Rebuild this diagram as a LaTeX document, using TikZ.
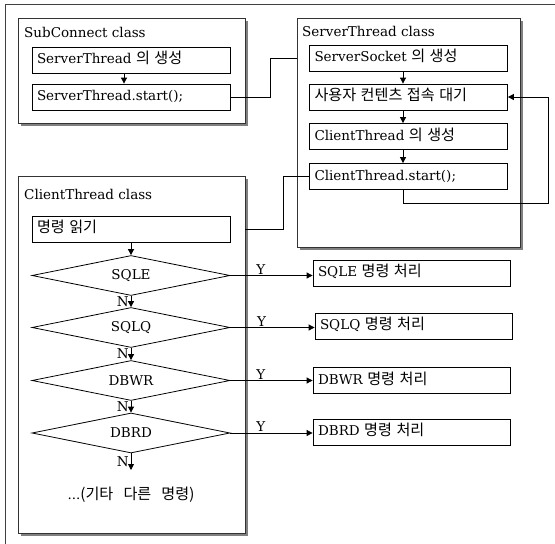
\documentclass[tikz,border=0pt]{standalone}
\usepackage{fontspec}
\setmainfont{DejaVu Serif}
\newfontfamily\kr[Scale=1.12, WordSpace=3]{Noto Sans CJK KR}
\usepackage{tikz}
\usetikzlibrary{shapes.geometric,arrows.meta,positioning,calc,shadows}

\begin{document}
\begin{tikzpicture}[x=1pt, y=-1pt,
  classbox/.style={draw=black!80, fill=white, line width=0.8pt, inner sep=0pt,
                   drop shadow={shadow xshift=3pt, shadow yshift=-3pt, fill=black!50, opacity=1}},
  stepbox/.style={draw, fill=white, line width=0.8pt, text width=188pt, align=left,
                  inner sep=5pt, minimum height=26pt, text height=10pt, text depth=3pt},
  resbox/.style={stepbox, text width=187pt},
  decide/.style={draw, diamond, aspect=5, minimum width=198pt, minimum height=40pt,
                 inner sep=0pt, line width=0.8pt},
  title/.style={anchor=base west, inner sep=0pt},
  arr/.style={-{Triangle[length=6pt,width=6pt]}, line width=0.8pt},
  line/.style={line width=0.8pt},
  font=\fontsize{13.5}{16}\selectfont
]
\useasboundingbox (0,0) rectangle (555,544);

% outer frame
\draw[line, black!75] (5,544) -- (5,4) -- (555,4);

% class frames
\node[classbox, minimum width=227pt, minimum height=105pt] (subc) at (131.5,70.5)  {};
\node[classbox, minimum width=223pt, minimum height=229pt] (srvc) at (408.5,132.5) {};
\node[classbox, minimum width=227pt, minimum height=357pt] (clic) at (131.5,354.5) {};

\node[title] (subct) at (24,37)  {SubConnect class};
\node[title] (srvct) at (302,36) {ServerThread class};
\node[title] (clict) at (24,199) {ClientThread class};

% SubConnect class
\node[stepbox] (st1) at (131,60) {ServerThread {\kr 의 생성}};
\node[stepbox] (st2) at (131,97) {ServerThread.start();};
\draw[arr] ([xshift=-7pt]st1.south) -- ([xshift=-7pt]st2.north);

% ServerThread class
\node[stepbox] (ss1) at (408.5,58)    {ServerSocket {\kr 의 생성}};
\node[stepbox] (ss2) at (408.5,97)    {\kr 사용자 컨텐츠 접속 대기};
\node[stepbox] (ss3) at (408.5,136.5) {ClientThread {\kr 의 생성}};
\node[stepbox] (ss4) at (408.5,176.5) {ClientThread.start();};
\draw[arr] ([xshift=-5.5pt]ss1.south) -- ([xshift=-5.5pt]ss2.north);
\draw[arr] ([xshift=-5.5pt]ss2.south) -- ([xshift=-5.5pt]ss3.north);
\draw[arr] ([xshift=-5.5pt]ss3.south) -- ([xshift=-5.5pt]ss4.north);

% loop back to waiting
\coordinate (loopc) at (548,203);
\draw[arr] ([xshift=-5.5pt]ss4.south) |- (loopc) |- (ss2.east);

% thread start links
\draw[line] (st2.east) -- ++(40,0) |- (srvc.west |- ss1.west);
\draw[line] (ss4.west) -- ++(-26,0) |- (clic.east |- 245,229);

% ClientThread class
\node[stepbox] (rd) at (131,229) {\kr 명령 읽기};
\node[decide] (d1) at (131,275.5) {SQLE};
\node[decide] (d2) at (131,327.5) {SQLQ};
\node[decide] (d3) at (131,380.5) {DBWR};
\node[decide] (d4) at (131,433)   {DBRD};
\node (etc) at (131,495) {...{\kr(기타 다른 명령)}};
\coordinate (etcend) at (131,470);

\draw[arr] (rd.south) -- (d1.north);
\draw[arr] (d1.south) -- node[left, inner sep=2pt]{N} (d2.north);
\draw[arr] (d2.south) -- node[left, inner sep=2pt]{N} (d3.north);
\draw[arr] (d3.south) -- node[left, inner sep=2pt]{N} (d4.north);
\draw[arr] (d4.south) -- node[left, inner sep=2pt]{N} (etcend);

% command handlers
\node[resbox] (r1) at (411.5,273)   {SQLE {\kr 명령 처리}};
\node[resbox] (r2) at (413.5,326)   {SQLQ {\kr 명령 처리}};
\node[resbox] (r3) at (411.5,380.5) {DBWR {\kr 명령 처리}};
\node[resbox] (r4) at (411.5,432)   {DBRD {\kr 명령 처리}};

\draw[arr] (d1.east) -- node[above, pos=.37, inner sep=1pt]{Y} (d1.east -| r1.west);
\draw[arr] (d2.east) -- node[above, pos=.37, inner sep=1pt]{Y} (d2.east -| r2.west);
\draw[arr] (d3.east) -- node[above, pos=.37, inner sep=1pt]{Y} (d3.east -| r3.west);
\draw[arr] (d4.east) -- node[above, pos=.37, inner sep=1pt]{Y} (d4.east -| r4.west);
\end{tikzpicture}
\end{document}
